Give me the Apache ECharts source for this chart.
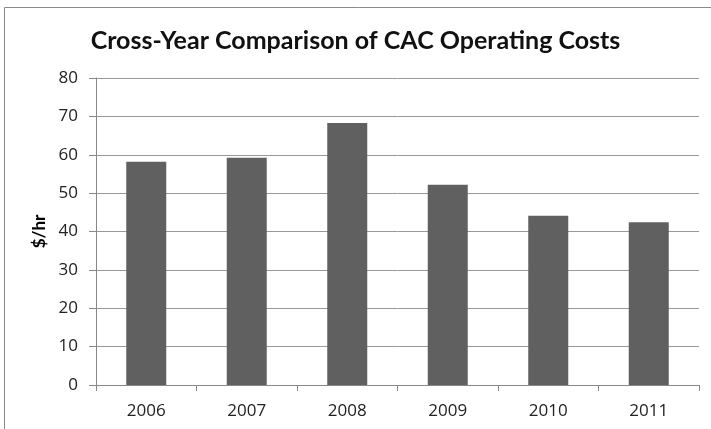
<!DOCTYPE html>
<html><head><meta charset="utf-8">
<script src="https://cdn.jsdelivr.net/npm/echarts@6/dist/echarts.min.js"></script>
<style>html,body{margin:0;padding:0;background:#fff}#c{width:711px;height:429px}</style>
</head><body><div id="c"></div>
<script>
const categories = ['2006','2007','2008','2009','2010','2011'];
const costs = [58.2, 59.2, 68.3, 52.2, 44.1, 42.4];
const yTicks = [0,10,20,30,40,50,60,70,80];

const chart = echarts.init(document.getElementById('c'), null, {renderer:'canvas'});
chart.setOption({
  animation:false,
  backgroundColor:'#fff',
  title:{text:'Cross-Year Comparison of CAC Operating Costs', left:'center', top:23,
    textStyle:{fontFamily:'Lato', fontWeight:'bold', fontSize:25, color:'#111'}},
  graphic:[{type:'rect', shape:{x:4.5,y:7.5,width:720,height:430}, style:{fill:'none', stroke:'#8a8a8a', lineWidth:1}}],
  grid:{left:96, right:12, top:78, bottom:44},
  xAxis:{type:'category', data:categories,
    axisLine:{lineStyle:{color:'#888'}},
    axisTick:{show:true, length:6, lineStyle:{color:'#888'}},
    axisLabel:{fontFamily:'Open Sans', fontSize:17, color:'#222', margin:18}},
  yAxis:{type:'value', min:0, max:80, interval:10,
    name:'$/hr', nameLocation:'middle', nameGap:44, nameRotate:90,
    nameTextStyle:{fontFamily:'Lato', fontWeight:'bold', fontSize:17, color:'#000'},
    axisLine:{show:true, lineStyle:{color:'#888'}},
    axisTick:{show:true, length:7, lineStyle:{color:'#888'}},
    axisLabel:{fontFamily:'Open Sans', fontSize:17, color:'#222', margin:18,
      formatter:v=> yTicks.includes(v)? String(v):''},
    splitLine:{lineStyle:{color:'#999', width:1}}},
  series:[{type:'bar', data:costs, barWidth:40, itemStyle:{color:'#606060'}}]
});
</script></body></html>
